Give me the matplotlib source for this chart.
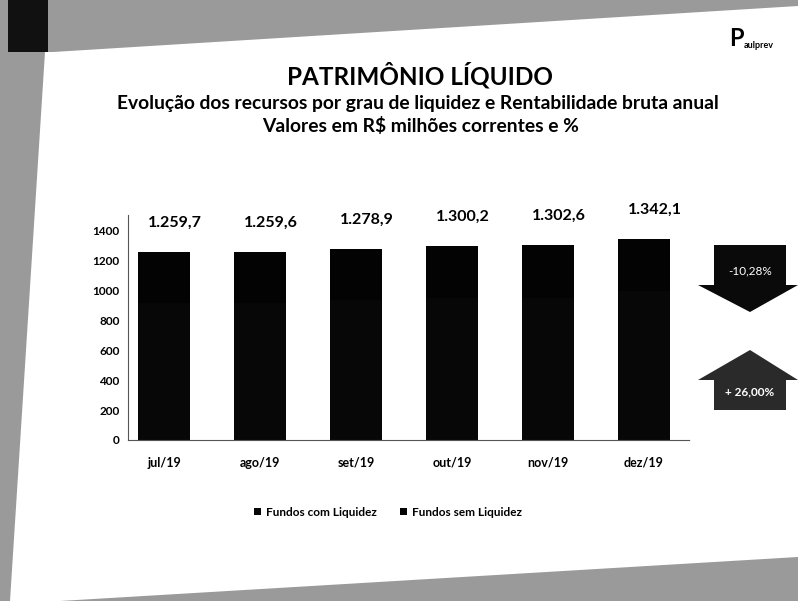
import matplotlib
matplotlib.use("Agg")
import matplotlib.pyplot as plt
from matplotlib.patches import Polygon

months = ["jul/19", "ago/19", "set/19", "out/19", "nov/19", "dez/19"]
totals = [1259.7, 1259.6, 1278.9, 1300.2, 1302.6, 1342.1]
total_labels = ["1.259,7", "1.259,6", "1.278,9", "1.300,2", "1.302,6", "1.342,1"]
com_liquidez = [918, 918, 935, 953, 953, 994]
sem_liquidez = [341.7, 341.6, 343.9, 347.2, 349.6, 348.1]
yticks = [0, 200, 400, 600, 800, 1000, 1200, 1400]
arrow_labels = ["-10,28%", "+ 26,00%"]

plt.rcParams['font.family'] = ['Lato', 'DejaVu Sans']
W, H = 798, 601
fig = plt.figure(figsize=(W / 100, H / 100), dpi=100)
fig.patch.set_facecolor("white")

def P(x, y):
    return (x / W, 1 - y / H)

def poly(pts, color):
    fig.patches.append(Polygon(pts, closed=True, transform=fig.transFigure,
                               facecolor=color, edgecolor="none"))

# scan borders
gray = "#9a9a9a"
poly([P(40, 0), P(798, 0), P(798, 6), P(53, 52), P(40, 52)], gray)
poly([P(0, 0), P(45, 0), P(45, 52), P(10, 601), P(0, 601)], gray)
poly([P(8, 0), P(48, 0), P(48, 52), P(8, 52)], "#111111")
poly([P(60, 601), P(798, 557), P(798, 601)], gray)

ax = fig.add_axes([128 / W, 1 - 440 / H, (690 - 128) / W, (440 - 215) / H])
x = list(range(len(months)))
ax.bar(x, com_liquidez, width=0.55, color="#070707", label="Fundos com Liquidez")
ax.bar(x, sem_liquidez, bottom=com_liquidez, width=0.55, color="#030303", label="Fundos sem Liquidez")
for xi, t, lab in zip(x, totals, total_labels):
    ax.annotate(lab, (xi, t), xytext=(8, 16), textcoords="offset points",
                ha="center", va="bottom", fontsize=11.5, fontweight="bold")
ax.set_xlim(-0.375, 5.48)
ax.set_ylim(0, 1505)
ax.set_yticks(yticks)
ax.set_yticklabels([str(v) for v in yticks], fontsize=8.5, fontweight="bold")
ax.set_xticks(x)
ax.set_xticklabels(months, fontsize=9, fontweight="bold")
ax.tick_params(axis="y", length=0, pad=6)
ax.tick_params(axis="x", length=0, pad=12)
for s in ["top", "right"]:
    ax.spines[s].set_visible(False)
for s in ["left", "bottom"]:
    ax.spines[s].set_linestyle((0, (1, 1)))
    ax.spines[s].set_color("#555555")
    ax.spines[s].set_linewidth(0.8)
ax.set_facecolor("none")

fig.legend(loc="center", bbox_to_anchor=(388 / W, 1 - 512 / H), ncol=2, frameon=False,
           prop={"weight": "bold", "size": 8.5}, handlelength=0.6, handleheight=0.6,
           columnspacing=2.0, handletextpad=0.4)

# titles
fig.text(420 / W, 1 - 75 / H, "PATRIMÔNIO LÍQUIDO", ha="center", va="center", fontsize=17.5, fontweight="bold")
fig.text(418 / W, 1 - 103 / H, "Evolução dos recursos por grau de liquidez e Rentabilidade bruta anual",
         ha="center", va="center", fontsize=13.9, fontweight="bold")
fig.text(421 / W, 1 - 126 / H, "Valores em R$ milhões correntes e %", ha="center", va="center",
         fontsize=13.9, fontweight="bold")

# logo
fig.text(744 / W, 1 - 38 / H, "P", ha="right", va="center", fontsize=17, fontweight="bold")
fig.text(744 / W, 1 - 45 / H, "aulprev", ha="left", va="center", fontsize=6.5, fontweight="bold")

# arrows
poly([P(714, 245), P(786, 245), P(786, 285), P(798, 285), P(750, 312), P(698, 285), P(714, 285)], "#0a0a0a")
poly([P(750, 350), P(798, 380), P(786, 380), P(786, 410), P(714, 410), P(714, 380), P(698, 380)], "#2a2a2a")
fig.text(750 / W, 1 - 271 / H, arrow_labels[0], ha="center", va="center", fontsize=8.5, color="white")
fig.text(750 / W, 1 - 392 / H, arrow_labels[1], ha="center", va="center", fontsize=8.5, color="white",
         fontweight="bold")

fig.savefig("out.png", dpi=100)
